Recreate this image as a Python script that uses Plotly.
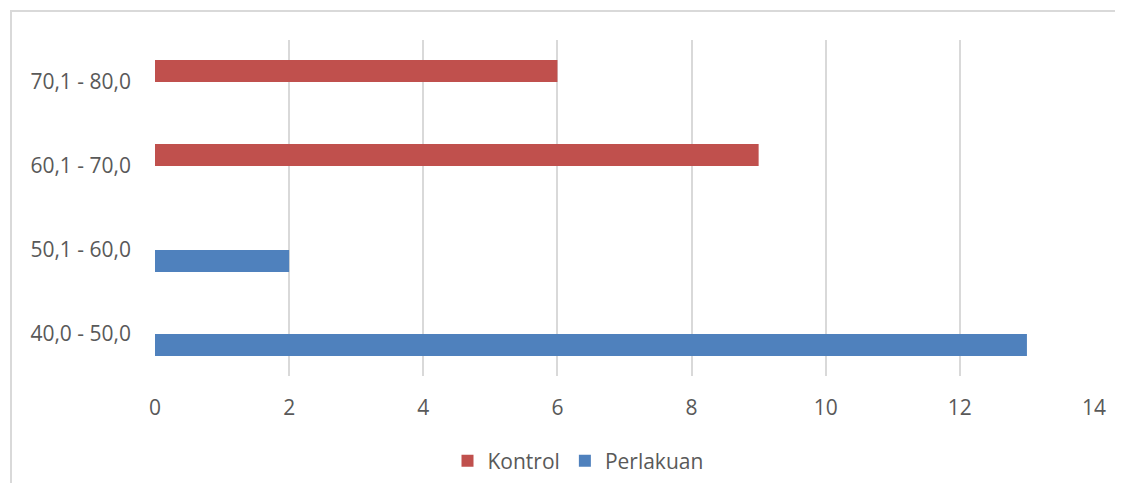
import plotly.graph_objects as go

categories = ["40,0 - 50,0", "50,1 - 60,0", "60,1 - 70,0", "70,1 - 80,0"]
perlakuan = [13, 2, 0, 0]
kontrol = [0, 0, 9, 6]
x_ticks = [0, 2, 4, 6, 8, 10, 12, 14]

# page has an 8px body margin; work in figure coordinates
OFF = 8
W, H = 1123 - 2 * OFF, 491 - 2 * OFF
L, T = 155 - OFF, 40 - OFF
R = W - (1094 - OFF)
B = H - (376 - OFF)
pw, ph = W - L - R, H - T - B

def px(x):
    return (x - OFF - L) / pw

def py(y):
    return (H - B - (y - OFF)) / ph

fig = go.Figure()
fig.add_trace(go.Bar(
    y=categories, x=perlakuan, name="Perlakuan", orientation="h",
    marker=dict(color="#4F81BD", line=dict(width=0)),
))
fig.add_trace(go.Bar(
    y=categories, x=kontrol, name="Kontrol", orientation="h",
    marker=dict(color="#C0504D", line=dict(width=0)),
))

fig.update_layout(
    width=W, height=H,
    margin=dict(l=L, r=R, t=T, b=B, autoexpand=False),
    paper_bgcolor="white", plot_bgcolor="white",
    barmode="group", bargap=0.476, bargroupgap=0,
    font=dict(family="Open Sans, Lato, sans-serif", size=21, color="#595959"),
    xaxis=dict(
        range=[0, 14], tickvals=x_ticks, showgrid=True,
        gridcolor="#d9d9d9", gridwidth=2, zeroline=False,
        showline=False, ticks="", ticklabelstandoff=17, automargin=False,
        tickfont=dict(size=21, color="#595959"),
    ),
    yaxis=dict(
        categoryorder="array", categoryarray=categories,
        showgrid=False, zeroline=False, showline=False, ticks="",
        ticklabelstandoff=23, automargin=False,
        tickfont=dict(size=21, color="#595959"),
    ),
    legend=dict(
        orientation="h", xref="container", yref="container",
        x=(578 - OFF) / W, y=1 - (461 - OFF) / H,
        xanchor="center", yanchor="middle",
        traceorder="reversed", font=dict(size=21, color="#595959"),
        itemwidth=30, bgcolor="rgba(0,0,0,0)",
    ),
    showlegend=True,
    shapes=[dict(
        type="rect", xref="paper", yref="paper",
        x0=px(11), x1=px(1140), y0=py(510), y1=py(11),
        line=dict(color="#d9d9d9", width=2), fillcolor="rgba(0,0,0,0)",
        layer="below",
    )],
)

fig.write_html("out.html")
